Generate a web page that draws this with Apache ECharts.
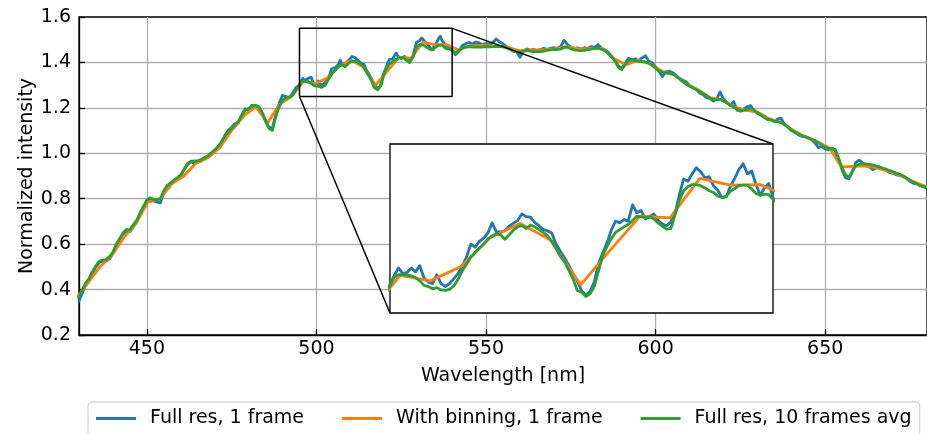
<!DOCTYPE html>
<html><head><meta charset="utf-8">
<script src="https://cdn.jsdelivr.net/npm/echarts@6/dist/echarts.min.js"></script>
<style>html,body{margin:0;padding:0;background:#fff}#c{width:927px;height:434px}</style>
</head><body><div id="c"></div><script>
// ---- sampling grids (nm) ----
const wlA = []; for (let w = 430; w <= 494; w += 1) wlA.push(w);
const wlB = []; for (let i = 0; i <= 90; i++) wlB.push(495 + i * 0.5);
const wlC = []; for (let w = 541; w <= 680; w += 1) wlC.push(w);

// ---- Full res, 1 frame ----
const blueA = [0.35,0.385,0.425,0.445,0.475,0.50,0.52,0.525,0.525,0.535,
0.56,0.595,0.62,0.645,0.655,0.655,0.675,0.70,0.735,0.765,
0.79,0.80,0.79,0.785,0.782,0.83,0.855,0.87,0.875,0.888,
0.90,0.928,0.95,0.962,0.958,0.96,0.965,0.98,0.985,1.0,
1.012,1.025,1.05,1.078,1.10,1.115,1.13,1.135,1.17,1.195,
1.19,1.212,1.205,1.20,1.175,1.14,1.115,1.11,1.17,1.22,
1.255,1.25,1.245,1.265,1.29];
const blueB = [1.300,1.317,1.330,1.320,1.322,1.330,1.323,1.334,1.312,1.305,
1.302,1.318,1.302,1.297,1.302,1.311,1.320,1.333,1.350,1.372,
1.367,1.377,1.383,1.392,1.410,1.394,1.394,1.396,1.404,1.409,
1.414,1.426,1.421,1.420,1.411,1.405,1.398,1.396,1.392,1.373,
1.360,1.348,1.335,1.320,1.307,1.290,1.282,1.288,1.305,1.338,
1.357,1.375,1.397,1.413,1.410,1.416,1.413,1.442,1.428,1.432,
1.417,1.421,1.426,1.414,1.408,1.405,1.412,1.427,1.460,1.488,
1.484,1.497,1.508,1.501,1.490,1.492,1.476,1.468,1.455,1.456,
1.475,1.489,1.505,1.515,1.497,1.502,1.478,1.459,1.472,1.480,
1.455];
const blueC = [1.434,1.450,1.475,1.482,1.488,1.480,1.490,1.485,1.478,1.484,
1.480,1.488,1.503,1.490,1.482,1.470,1.462,1.452,1.448,1.423,
1.450,1.460,1.453,1.458,1.452,1.456,1.462,1.458,1.462,1.465,
1.462,1.470,1.497,1.478,1.468,1.460,1.464,1.458,1.465,1.462,
1.470,1.466,1.478,1.464,1.455,1.445,1.428,1.410,1.385,1.375,
1.395,1.418,1.412,1.416,1.408,1.420,1.430,1.405,1.398,1.380,
1.360,1.338,1.360,1.362,1.355,1.344,1.330,1.322,1.315,1.298,
1.290,1.282,1.265,1.258,1.245,1.242,1.230,1.240,1.270,1.240,
1.225,1.210,1.228,1.190,1.185,1.195,1.205,1.210,1.188,1.175,
1.170,1.162,1.148,1.150,1.140,1.152,1.155,1.125,1.115,1.100,
1.095,1.082,1.075,1.075,1.068,1.060,1.045,1.025,1.030,1.020,
1.015,1.022,1.010,0.970,0.925,0.892,0.888,0.920,0.960,0.970,
0.958,0.945,0.940,0.928,0.935,0.940,0.932,0.925,0.915,0.912,
0.905,0.902,0.898,0.888,0.876,0.868,0.865,0.857,0.852,0.848];

// ---- Full res, 10 frames avg ----
const greenA = [0.37,0.40,0.43,0.45,0.48,0.505,0.525,0.53,0.532,0.545,
0.565,0.60,0.625,0.65,0.665,0.663,0.685,0.705,0.735,0.765,
0.795,0.804,0.797,0.795,0.80,0.835,0.858,0.868,0.882,0.893,
0.905,0.93,0.955,0.965,0.966,0.968,0.972,0.98,0.99,1.002,
1.015,1.03,1.05,1.075,1.095,1.11,1.125,1.14,1.165,1.19,
1.198,1.208,1.212,1.205,1.18,1.145,1.11,1.10,1.16,1.205,
1.232,1.245,1.247,1.255,1.28];
const greenB = [1.298,1.314,1.318,1.318,1.317,1.316,1.313,1.307,1.299,1.297,
1.293,1.295,1.291,1.290,1.292,1.298,1.310,1.325,1.337,1.349,
1.357,1.365,1.372,1.381,1.387,1.390,1.389,1.381,1.389,1.397,
1.403,1.405,1.400,1.406,1.403,1.398,1.393,1.387,1.378,1.365,
1.351,1.341,1.326,1.311,1.290,1.287,1.279,1.284,1.297,1.325,
1.352,1.368,1.382,1.393,1.398,1.403,1.407,1.414,1.422,1.421,
1.419,1.421,1.417,1.410,1.404,1.399,1.400,1.425,1.450,1.467,
1.474,1.478,1.478,1.476,1.472,1.467,1.464,1.458,1.455,1.457,
1.466,1.471,1.476,1.477,1.477,1.470,1.462,1.459,1.461,1.460,
1.452];
const greenC = [1.443,1.452,1.464,1.468,1.470,1.468,1.468,1.467,1.468,1.470,
1.469,1.470,1.471,1.470,1.468,1.465,1.458,1.450,1.446,1.444,
1.448,1.453,1.450,1.448,1.448,1.448,1.450,1.453,1.455,1.456,
1.457,1.459,1.465,1.467,1.460,1.455,1.453,1.452,1.453,1.456,
1.459,1.462,1.463,1.458,1.452,1.440,1.425,1.407,1.378,1.368,
1.390,1.408,1.410,1.408,1.405,1.404,1.401,1.397,1.387,1.375,
1.362,1.357,1.354,1.352,1.350,1.340,1.328,1.315,1.304,1.295,
1.288,1.280,1.272,1.262,1.253,1.244,1.236,1.236,1.238,1.230,
1.221,1.212,1.203,1.195,1.188,1.189,1.192,1.198,1.190,1.180,
1.168,1.158,1.150,1.146,1.142,1.139,1.135,1.128,1.116,1.103,
1.092,1.085,1.078,1.073,1.068,1.062,1.055,1.046,1.035,1.026,
1.022,1.022,1.015,0.975,0.935,0.905,0.895,0.920,0.945,0.953,
0.954,0.953,0.951,0.949,0.944,0.939,0.934,0.930,0.924,0.919,
0.913,0.907,0.900,0.892,0.882,0.873,0.865,0.858,0.853,0.849];

// ---- With binning, 1 frame ----
const binnedWl = [429.1,432.7,436.2,439.7,443.3,446.8,450.3,453.9,457.4,460.9,
464.4,468.0,471.5,475.0,478.6,482.1,485.6,489.1,492.6,496.2,
499.7,503.3,506.8,510.3,513.8,517.4,520.9,524.4,527.9,531.4,
535.0,538.5,542.0,545.6,549.1,552.6,556.1,559.7,563.2,566.7,
570.2,573.8,577.3,580.8,584.3,587.9,591.4,594.9,598.4,602.0,
605.5,609.0,612.5,616.1,619.6,623.1,626.6,630.2,633.7,637.2,
640.7,644.3,647.8,651.3,654.8,658.4,661.9,665.4,668.9,672.5,
676.0,679.5,683.0];
const binnedVal = [0.36,0.43,0.50,0.55,0.63,0.69,0.785,0.80,0.865,0.90,
0.955,0.98,1.025,1.10,1.165,1.205,1.135,1.215,1.25,1.317,
1.307,1.332,1.384,1.409,1.380,1.300,1.362,1.422,1.419,1.489,
1.477,1.478,1.455,1.475,1.475,1.473,1.468,1.452,1.455,1.455,
1.46,1.47,1.46,1.462,1.462,1.415,1.39,1.41,1.395,1.36,
1.345,1.305,1.28,1.245,1.235,1.205,1.19,1.18,1.15,1.135,
1.10,1.07,1.05,1.022,0.94,0.942,0.945,0.935,0.92,0.90,
0.875,0.855,0.835];

// ---- axes / labels ----
const seriesNames = ['Full res, 1 frame', 'With binning, 1 frame', 'Full res, 10 frames avg'];
const seriesColors = ['#1f77b4', '#ff7f0e', '#2ca02c'];
const xTickValues = [450, 500, 550, 600, 650];
const xRange = [430, 680];
const yRange = [0.2, 1.6];
const yStep = 0.2;
const zoomX = [495, 540];
const zoomY = [1.25, 1.55];
const xTitle = 'Wavelength [nm]';
const yTitle = 'Normalized intensity';

const FONT = 'DejaVu Sans';
const fullWl = wlA.concat(wlB, wlC);
const blue = blueA.concat(blueB, blueC);
const green = greenA.concat(greenB, greenC);
const pairs = (xs, ys) => xs.map((x, i) => [x, ys[i]]);
const blueData = pairs(fullWl, blue);
const greenData = pairs(fullWl, green);
const orangeData = pairs(binnedWl, binnedVal);

function lineSeries(name, data, color, gi, z) {
  return {
    type: 'line', name, data, xAxisIndex: gi, yAxisIndex: gi,
    symbol: 'none', showSymbol: false, clip: true, z,
    lineStyle: {color, width: 2.8, join: 'round', cap: 'round'},
    itemStyle: {color}, emphasis: {disabled: true}, silent: true, animation: false
  };
}

const chart = echarts.init(document.getElementById('c'), null, {renderer: 'canvas'});
const rect = [[zoomX[0], zoomY[0]], [zoomX[1], zoomY[0]], [zoomX[1], zoomY[1]], [zoomX[0], zoomY[1]], [zoomX[0], zoomY[0]]];

chart.setOption({
  animation: false,
  backgroundColor: '#fff',
  grid: [
    {left: 79, top: 17, right: -4, bottom: 99, show: true, borderColor: '#000', borderWidth: 1.3, backgroundColor: 'transparent', z: 0},
    {left: 390, top: 144, width: 383, height: 169, show: true, borderColor: '#000', borderWidth: 1.3, backgroundColor: '#fff', z: 3}
  ],
  xAxis: [
    {gridIndex: 0, type: 'value', min: xRange[0], max: xRange[1],
     name: xTitle, nameLocation: 'middle', nameGap: 32, nameMoveOverlap: false,
     nameTextStyle: {fontFamily: FONT, fontSize: 19, color: '#000'},
     axisLine: {show: true, onZero: false, lineStyle: {color: '#000', width: 1.3}},
     axisTick: {show: true, inside: true, length: 6, customValues: xTickValues, lineStyle: {color: '#000', width: 1.3}},
     axisLabel: {customValues: xTickValues, margin: 5, fontFamily: FONT, fontSize: 19, color: '#000'},
     splitLine: {show: true, lineStyle: {color: '#b0b0b0', width: 1.3}}},
    {gridIndex: 1, type: 'value', min: zoomX[0], max: zoomX[1], show: false, splitLine: {show: false}}
  ],
  yAxis: [
    {gridIndex: 0, type: 'value', min: yRange[0], max: yRange[1], interval: yStep,
     name: yTitle, nameLocation: 'middle', nameGap: 42, nameMoveOverlap: false,
     nameTextStyle: {fontFamily: FONT, fontSize: 19, color: '#000'},
     axisLine: {show: true, onZero: false, lineStyle: {color: '#000', width: 1.3}},
     axisTick: {show: true, inside: true, length: 6, lineStyle: {color: '#000', width: 1.3}},
     axisLabel: {margin: 8, fontFamily: FONT, fontSize: 19, color: '#000', formatter: v => v.toFixed(1)},
     splitLine: {show: true, showMinLine: false, showMaxLine: false, lineStyle: {color: '#b0b0b0', width: 1.3}}},
    {gridIndex: 1, type: 'value', min: zoomY[0], max: zoomY[1], show: false, splitLine: {show: false}}
  ],
  legend: {
    data: seriesNames, left: 88, top: 402, orient: 'horizontal',
    padding: [7, 8, 14, 8], itemGap: 38, itemWidth: 40, itemHeight: 3, icon: 'rect',
    borderColor: '#d4d4d4', borderWidth: 1.3, borderRadius: 4, backgroundColor: '#fff',
    textStyle: {fontFamily: FONT, fontSize: 19, color: '#000', padding: [0, 0, 0, 9]},
    selectedMode: false
  },
  series: [
    lineSeries(seriesNames[0], blueData, seriesColors[0], 0, 2),
    lineSeries(seriesNames[1], orangeData, seriesColors[1], 0, 2),
    lineSeries(seriesNames[2], greenData, seriesColors[2], 0, 2),
    lineSeries(seriesNames[0], blueData, seriesColors[0], 1, 4),
    lineSeries(seriesNames[1], orangeData, seriesColors[1], 1, 4),
    lineSeries(seriesNames[2], greenData, seriesColors[2], 1, 4),
    {type: 'line', name: 'zoom-rect', data: rect, xAxisIndex: 0, yAxisIndex: 0, symbol: 'none', clip: false, z: 6,
     lineStyle: {color: '#000', width: 1.5}, silent: true, emphasis: {disabled: true}}
  ]
});

// connector lines from zoom rectangle corners to inset corners
const a1 = chart.convertToPixel({gridIndex: 0}, [zoomX[0], zoomY[0]]);
const b1 = chart.convertToPixel({gridIndex: 1}, [zoomX[0], zoomY[0]]);
const a2 = chart.convertToPixel({gridIndex: 0}, [zoomX[1], zoomY[1]]);
const b2 = chart.convertToPixel({gridIndex: 1}, [zoomX[1], zoomY[1]]);
chart.setOption({
  graphic: [
    {type: 'line', z: 10, silent: true, shape: {x1: a1[0], y1: a1[1], x2: b1[0], y2: b1[1]}, style: {stroke: '#000', lineWidth: 1.5}},
    {type: 'line', z: 10, silent: true, shape: {x1: a2[0], y1: a2[1], x2: b2[0], y2: b2[1]}, style: {stroke: '#000', lineWidth: 1.5}}
  ]
});
</script></body></html>
